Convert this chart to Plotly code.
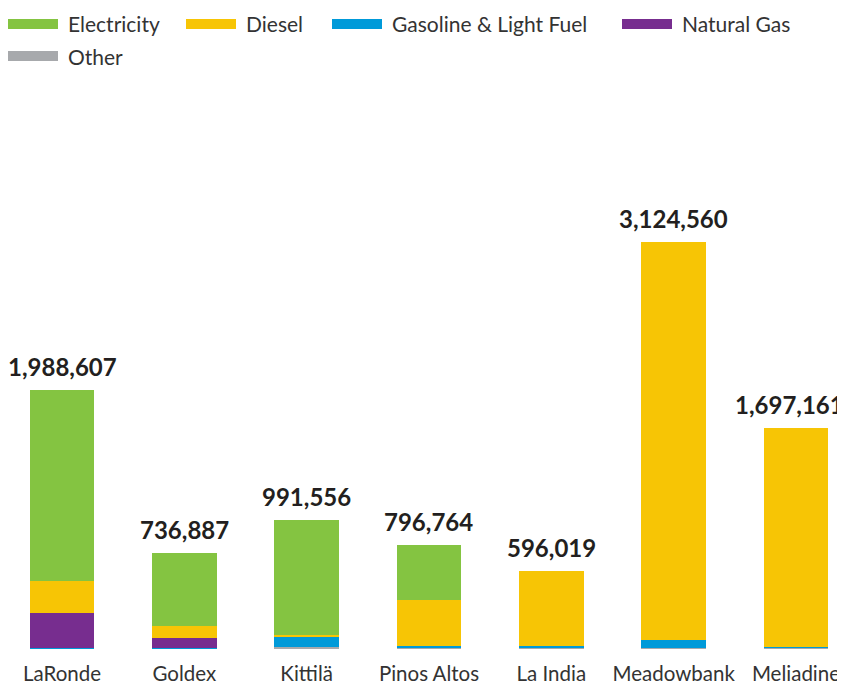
import plotly.graph_objects as go

sites = ["LaRonde", "Goldex", "Kittilä", "Pinos Altos", "La India", "Meadowbank", "Meliadine"]
other = [2000, 2000, 14000, 8000, 8000, 8000, 8000]
gasoline = [3000, 2000, 82000, 16000, 14000, 62000, 7000]
natural_gas = [275000, 84000, 0, 0, 0, 0, 0]
diesel = [245000, 92000, 15000, 354000, 574019, 3054560, 1682161]
electricity = [1463607, 556887, 880556, 418764, 0, 0, 0]
totals = [1988607, 736887, 991556, 796764, 596019, 3124560, 1697161]

series = [
    ("Other", other, "#a7a9ac"),
    ("Gasoline & Light Fuel", gasoline, "#009ad9"),
    ("Natural Gas", natural_gas, "#772d8f"),
    ("Diesel", diesel, "#f7c505"),
    ("Electricity", electricity, "#84c441"),
]

FONT = "Lato"
# page has an 8px body margin; figure sized so it ends at the window edge
OFF = 8
W, H = 845 - OFF, 687 - OFF
L, R, T, B = 0, 0, 92, 38
plot_h = H - T - B

fig = go.Figure()
for name, vals, col in series:
    fig.add_trace(go.Bar(x=sites, y=vals, name=name, marker=dict(color=col, line=dict(width=0)),
                         width=0.53, showlegend=False, hoverinfo="skip"))

for i, (s, t) in enumerate(zip(sites, totals)):
    fig.add_annotation(x=s, y=t, text=f"<b>{t:,}</b>", showarrow=False, yanchor="bottom",
                       yshift=7, xshift=(-6 if i == len(sites) - 1 else 0),
                       font=dict(family=FONT, size=24, color="#231f20"))

# custom legend with wide swatches (page pixel positions)
legend_items = [
    ("Electricity", "#84c441", 8, 24),
    ("Diesel", "#f7c505", 186, 24),
    ("Gasoline & Light Fuel", "#009ad9", 332, 24),
    ("Natural Gas", "#772d8f", 622, 24),
    ("Other", "#a7a9ac", 8, 56),
]

def px_x(xpage):
    return (xpage - OFF) / W

def px_y(ypage):
    return (H - B - (ypage - OFF)) / plot_h

for name, col, x0, yc in legend_items:
    fig.add_shape(type="rect", xref="paper", yref="paper",
                  x0=px_x(x0), x1=px_x(x0 + 50), y0=px_y(yc + 5), y1=px_y(yc - 5),
                  line=dict(width=0), fillcolor=col)
    fig.add_annotation(xref="paper", yref="paper", x=px_x(x0 + 58), y=px_y(yc),
                       xanchor="left", yanchor="middle", showarrow=False, text=name,
                       font=dict(family=FONT, size=21, color="#333333"))

rmin = -(62 - OFF) / 122.33
rmax = rmin + W / 122.33
fig.update_layout(
    width=W, height=H, barmode="stack", bargap=0,
    margin=dict(l=L, r=R, t=T, b=B, pad=0),
    plot_bgcolor="white", paper_bgcolor="white",
    xaxis=dict(range=[rmin, rmax], showgrid=False, zeroline=False, showline=False,
               ticks="", ticklabelstandoff=10, automargin=False,
               tickfont=dict(family=FONT, size=20.5, color="#333333")),
    yaxis=dict(range=[0, 4215000], visible=False),
    font=dict(family=FONT),
)
fig.write_html("out.html")
